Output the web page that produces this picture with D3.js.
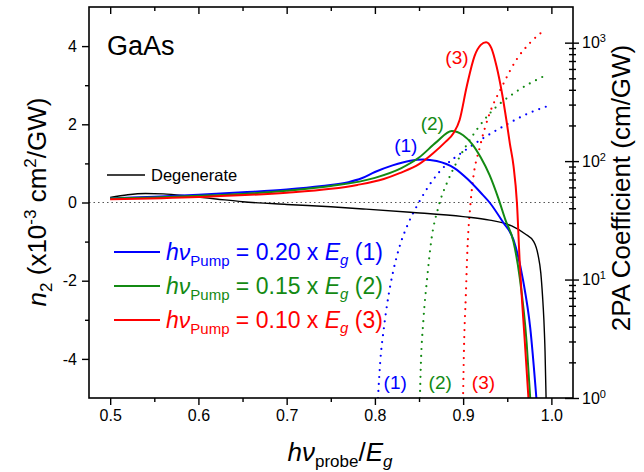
<!DOCTYPE html>
<html>
<head>
<meta charset="utf-8">
<script src="https://cdn.jsdelivr.net/npm/d3@7"></script>
<style>
body { margin: 0; background: #fff; }
svg { display: block; font-family: "Liberation Sans", Arial, Helvetica, sans-serif; }
</style>
</head>
<body>
<svg id="chart" width="644" height="472"></svg>
<script>
// n2 curves: [h nu_probe / Eg, n2 (x10^-3 cm^2/GW)]
const degenerate = [[0.5,0.13],[0.52,0.2],[0.54,0.23],[0.56,0.22],[0.59,0.16],[0.62,0.09],[0.65,0.02],[0.70,-0.05],[0.75,-0.11],[0.79,-0.17],[0.84,-0.25],[0.90,-0.36],[0.93,-0.45],[0.955,-0.6],[0.97,-0.8],[0.98,-1.0],[0.985,-1.35],[0.988,-1.8],[0.990,-2.4],[0.9915,-3.0],[0.9928,-3.8],[0.994,-5.0]];
const pump020 = [[0.5,0.1],[0.55,0.15],[0.6,0.2],[0.65,0.26],[0.7,0.33],[0.74,0.42],[0.77,0.52],[0.785,0.62],[0.80,0.78],[0.82,0.95],[0.84,1.07],[0.855,1.1],[0.87,1.06],[0.89,0.88],[0.905,0.6],[0.92,0.25],[0.93,0.0],[0.945,-0.5],[0.957,-0.95],[0.968,-2.0],[0.976,-3.2],[0.983,-5.0]];
const pump015 = [[0.5,0.1],[0.55,0.13],[0.6,0.17],[0.65,0.22],[0.7,0.3],[0.75,0.42],[0.8,0.63],[0.83,0.88],[0.85,1.15],[0.87,1.55],[0.887,1.83],[0.9,1.72],[0.91,1.5],[0.92,1.15],[0.93,0.7],[0.94,0.1],[0.948,-0.45],[0.957,-1.0],[0.964,-1.9],[0.972,-3.6],[0.976,-5.0]];
const pump010 = [[0.5,0.08],[0.6,0.14],[0.7,0.25],[0.75,0.35],[0.78,0.45],[0.81,0.6],[0.828,0.75],[0.85,0.98],[0.866,1.26],[0.88,1.55],[0.889,1.77],[0.896,2.11],[0.904,2.96],[0.913,3.75],[0.92,4.03],[0.926,4.1],[0.932,3.95],[0.938,3.47],[0.944,2.8],[0.949,2.11],[0.953,1.5],[0.957,0.95],[0.961,-0.02],[0.964,-1.47],[0.97,-3.6],[0.974,-5.0]];

// 2PA coefficient (cm/GW), right log axis
const tpa020 = [[0.8035,1],[0.806,2],[0.81,3.8],[0.815,7],[0.821,12],[0.828,19],[0.838,30],[0.85,45],[0.865,68],[0.88,92],[0.9,120],[0.925,160],[0.95,205],[0.975,255],[0.998,295]];
const tpa015 = [[0.851,1],[0.852,1.84],[0.855,4.6],[0.859,9.9],[0.864,21.6],[0.872,41],[0.883,69],[0.895,105],[0.904,137],[0.93,252],[0.96,385],[0.992,523]];
const tpa010 = [[0.9,1.1],[0.901,2.7],[0.903,7.2],[0.905,19],[0.908,41],[0.911,68],[0.919,132],[0.93,252],[0.944,425],[0.96,710],[0.976,1000],[0.993,1290]];

const xTicks = [0.5, 0.6, 0.7, 0.8, 0.9, 1.0];
const xMinor = [0.55, 0.65, 0.75, 0.85, 0.95];
const yTicks = [-4, -2, 0, 2, 4];
const yMinor = [-3, -1, 1, 3];
const rightExp = [0, 1, 2, 3];

const pumpLabels = ["0.20", "0.15", "0.10"];
const pumpColors = ["#0000ff", "#138a13", "#ff0000"];

const svg = d3.select("#chart");
const m = {left: 89, right: 573, top: 7, bottom: 398};

const x = d3.scaleLinear().domain([0.476, 1.0245]).range([m.left, m.right]);
const y = d3.scaleLinear().domain([-5, 5]).range([m.bottom, m.top]);
const yR = d3.scaleLog().domain([1, 2000]).range([m.bottom, m.top]);

svg.append("clipPath").attr("id", "clip")
  .append("rect").attr("x", m.left).attr("y", m.top)
  .attr("width", m.right - m.left).attr("height", m.bottom - m.top);

// zero line
svg.append("line")
  .attr("x1", m.left).attr("x2", m.right)
  .attr("y1", y(0)).attr("y2", y(0))
  .attr("stroke", "#555").attr("stroke-width", 1.2)
  .attr("stroke-dasharray", "1.5,3");

const plot = svg.append("g").attr("clip-path", "url(#clip)");

const line = d3.line().x(d => x(d[0])).y(d => y(d[1])).curve(d3.curveMonotoneX);
const lineR = d3.line().x(d => x(d[0])).y(d => yR(d[1])).curve(d3.curveMonotoneX);

[tpa020, tpa015, tpa010].forEach((s, i) => {
  plot.append("path").datum(s).attr("d", lineR)
    .attr("fill", "none").attr("stroke", pumpColors[i])
    .attr("stroke-width", 2.2).attr("stroke-linecap", "round")
    .attr("stroke-dasharray", "0,7");
});

plot.append("path").datum(degenerate).attr("d", line)
  .attr("fill", "none").attr("stroke", "#000").attr("stroke-width", 1.4);

[pump020, pump015, pump010].forEach((s, i) => {
  plot.append("path").datum(s).attr("d", line)
    .attr("fill", "none").attr("stroke", pumpColors[i]).attr("stroke-width", 2);
});

// axes
const tickFont = g => g.selectAll("text").attr("font-size", 16).attr("fill", "#000")
  .attr("font-family", "Liberation Sans, Arial, sans-serif");

const xb = svg.append("g").attr("transform", `translate(0,${m.bottom})`)
  .call(d3.axisBottom(x).tickValues(xTicks).tickSize(7).tickPadding(5).tickFormat(d3.format(".1f")));
xb.call(tickFont);
svg.append("g").attr("transform", `translate(0,${m.bottom})`)
  .call(d3.axisBottom(x).tickValues(xMinor).tickSize(4).tickFormat(""));

svg.append("g").attr("transform", `translate(0,${m.top})`)
  .call(d3.axisBottom(x).tickValues(xTicks).tickSize(7).tickFormat(""));
svg.append("g").attr("transform", `translate(0,${m.top})`)
  .call(d3.axisBottom(x).tickValues(xMinor).tickSize(4).tickFormat(""));

const yl = svg.append("g").attr("transform", `translate(${m.left},0)`)
  .call(d3.axisLeft(y).tickValues(yTicks).tickSize(7).tickPadding(5).tickFormat(d => String(d)));
yl.call(tickFont);
svg.append("g").attr("transform", `translate(${m.left},0)`)
  .call(d3.axisLeft(y).tickValues(yMinor).tickSize(4).tickFormat(""));

const rMajor = rightExp.map(e => Math.pow(10, e));
const rMinor = [];
rightExp.forEach(e => { for (let k = 2; k <= 9; k++) { const v = k * Math.pow(10, e); if (v < 2000) rMinor.push(v); } });

const yr = svg.append("g").attr("transform", `translate(${m.right},0)`)
  .call(d3.axisRight(yR).tickValues(rMajor).tickSize(6).tickPadding(6).tickFormat(""));
yr.selectAll(".tick line").attr("x1", -8);
yr.selectAll(".tick").append("text")
  .attr("x", 9).attr("dy", "0.32em").attr("fill", "#000").attr("font-size", 16)
  .attr("text-anchor", "start")
  .each(function(d, i) {
    const t = d3.select(this);
    t.append("tspan").text("10");
    t.append("tspan").attr("dy", "-0.55em").attr("font-size", 11).text(String(rightExp[i]));
  });
const yrm = svg.append("g").attr("transform", `translate(${m.right},0)`)
  .call(d3.axisRight(yR).tickValues(rMinor).tickSize(3).tickFormat(""));
yrm.selectAll(".tick line").attr("x1", -4);

svg.selectAll(".domain").remove();
svg.selectAll(".tick line").attr("stroke", "#000").attr("stroke-width", 1.4);

// frame
svg.append("rect").attr("x", m.left).attr("y", m.top)
  .attr("width", m.right - m.left).attr("height", m.bottom - m.top)
  .attr("fill", "none").attr("stroke", "#000").attr("stroke-width", 1.6);

// axis titles
const xt = svg.append("text").attr("x", 340).attr("y", 461).attr("text-anchor", "middle").attr("font-size", 26);
xt.append("tspan").attr("font-style", "italic").text("hν");
xt.append("tspan").attr("font-size", 17).attr("dy", 6).text("probe");
xt.append("tspan").attr("dy", -6).text("/");
xt.append("tspan").attr("font-style", "italic").text("E");
xt.append("tspan").attr("font-style", "italic").attr("font-size", 17).attr("dy", 6).text("g");

const ylt = svg.append("text").attr("transform", "translate(46,202) rotate(-90)")
  .attr("text-anchor", "middle").attr("font-size", 26);
ylt.append("tspan").attr("font-style", "italic").text("n");
ylt.append("tspan").attr("font-size", 17).attr("dy", 6).text("2");
ylt.append("tspan").attr("dy", -6).text(" (x10");
ylt.append("tspan").attr("font-size", 17).attr("dy", -10).text("-3");
ylt.append("tspan").attr("dy", 10).text(" cm");
ylt.append("tspan").attr("font-size", 17).attr("dy", -10).text("2");
ylt.append("tspan").attr("dy", 10).text("/GW)");

svg.append("text").attr("transform", "translate(630,188) rotate(-90)")
  .attr("text-anchor", "middle").attr("font-size", 26).text("2PA Coefficient (cm/GW)");

// sample label
svg.append("text").attr("x", 107).attr("y", 55).attr("font-size", 27).text("GaAs");

// degenerate legend
svg.append("line").attr("x1", 107).attr("x2", 145).attr("y1", 175).attr("y2", 175)
  .attr("stroke", "#000").attr("stroke-width", 1.4);
svg.append("text").attr("x", 151).attr("y", 181).attr("font-size", 16.5).text("Degenerate");

// pump legend
pumpLabels.forEach((p, i) => {
  const yy = 252 + i * 34;
  svg.append("line").attr("x1", 114).attr("x2", 160).attr("y1", yy).attr("y2", yy)
    .attr("stroke", pumpColors[i]).attr("stroke-width", 2);
  const t = svg.append("text").attr("x", 166).attr("y", yy + 8).attr("font-size", 23).attr("fill", pumpColors[i]);
  t.append("tspan").attr("font-style", "italic").text("hν");
  t.append("tspan").attr("font-size", 15).attr("dy", 6).text("Pump");
  t.append("tspan").attr("dy", -6).text(" = " + p + " x ");
  t.append("tspan").attr("font-style", "italic").text("E");
  t.append("tspan").attr("font-style", "italic").attr("font-size", 15).attr("dy", 5).text("g");
  t.append("tspan").attr("dy", -5).text(" (" + (i + 1) + ")");
});

// curve labels
const topLabels = [[0.835, 1.29], [0.865, 1.85], [0.893, 3.54]];
const bottomLabels = [0.823, 0.874, 0.923];
topLabels.forEach((d, i) => {
  svg.append("text").attr("x", x(d[0])).attr("y", y(d[1])).attr("text-anchor", "middle")
    .attr("font-size", 19).attr("fill", pumpColors[i]).text("(" + (i + 1) + ")");
});
bottomLabels.forEach((d, i) => {
  svg.append("text").attr("x", x(d)).attr("y", 389).attr("text-anchor", "middle")
    .attr("font-size", 19).attr("fill", pumpColors[i]).text("(" + (i + 1) + ")");
});
</script>
</body>
</html>
